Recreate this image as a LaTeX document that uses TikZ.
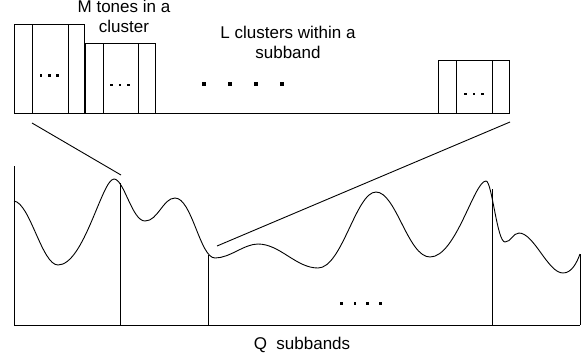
\documentclass[tikz,border=0pt]{standalone}
\usepackage{fontspec}
\setmainfont{Liberation Sans}
\begin{document}
\begin{tikzpicture}[x=1pt,y=-1pt,
  ln/.style={line width=0.9pt,black},
  lbl/.style={font=\fontsize{17}{20}\selectfont,align=center,anchor=base,inner sep=0pt},
  sdot/.style={fill=black,minimum size=2.8pt,inner sep=0pt,draw=none,rectangle},
  bdot/.style={fill=black,minimum size=4pt,inner sep=0pt,draw=none,rectangle}]
\useasboundingbox (0,0) rectangle (585,360);
% top clusters
\draw[ln] (14,113) -- (509,113);
\draw[ln] (14,24) rectangle (84,113);
\draw[ln] (32,24) -- (32,113) (68,24) -- (68,113);
\draw[ln] (85,43) rectangle (155,113);
\draw[ln] (103,43) -- (103,113) (138,43) -- (138,113);
\draw[ln] (438,60) rectangle (509,113);
\draw[ln] (456,60) -- (456,113) (492,60) -- (492,113);
% small dots in clusters
\foreach \x in {41,49.3,57.6} \node[sdot] at (\x,75.7) {};
\foreach \x in {111.7,120,128.5} \node[sdot] at (\x,85) {};
\foreach \x in {465.7,474,482.3} \node[sdot] at (\x,94) {};
% big dots
\foreach \x in {203.7,229.8,256,282} \node[bdot] at (\x,84.3) {};
% labels
\node[lbl] (mt) at (124,32.5) {M tones in a\\cluster};
\node[lbl] (lc) at (288,58) {L clusters within a\\subband};
\node[lbl] (qs) at (302,349.5) {Q\ \ subbands};
% zoom lines
\coordinate (z1a) at (32,123);
\coordinate (z1b) at (121,175);
\coordinate (z2a) at (217,246);
\coordinate (z2b) at (510,122);
\draw[ln] (z1a) -- (z1b);
\draw[ln] (z2a) -- (z2b);
% axis and verticals
\draw[ln] (14,166) -- (14,325) -- (580,325);
\draw[ln] (120,183) -- (120,325);
\draw[ln] (208,255) -- (208,325);
\draw[ln] (492,189) -- (492,325);
\draw[ln] (580,254) -- (580,325);
% spectrum curve
\draw[ln] (14,201)
  .. controls (30,203) and (42,265) .. (58,265)
  .. controls (84,265) and (102,179) .. (114,179)
  .. controls (124,179) and (132,221) .. (145,221)
  .. controls (158,221) and (163,198) .. (175,198)
  .. controls (192,198) and (200,258) .. (215,258)
  .. controls (230,258) and (244,244) .. (258,244)
  .. controls (280,244) and (296,268) .. (318,268)
  .. controls (342,268) and (356,192) .. (376,192)
  .. controls (396,192) and (408,257) .. (430,257)
  .. controls (456,257) and (474,181) .. (486,181)
  .. controls (492,181) and (497,242) .. (505,242)
  .. controls (511,242) and (513,233) .. (519,233)
  .. controls (534,233) and (548,273) .. (563,273)
  .. controls (572,273) and (577,262) .. (580,254);
% bottom dots
\foreach \x in {341.7,355,367.7,380.7} \node[sdot] at (\x,303.3) {};
\end{tikzpicture}
\end{document}
